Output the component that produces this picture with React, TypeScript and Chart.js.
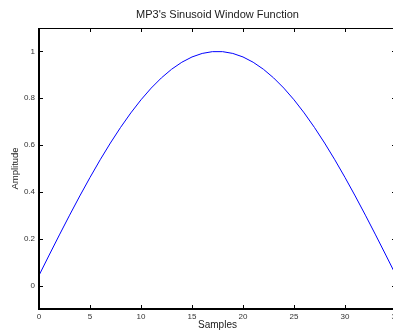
import React, { useEffect, useRef } from "react";
import { Chart, registerables } from "chart.js";

Chart.register(...registerables);

const samples = [0,1,2,3,4,5,6,7,8,9,10,11,12,13,14,15,16,17,18,19,20,21,22,23,24,25,26,27,28,29,30,31,32,33,34,35];
const amplitude = [
  0.0436, 0.1305, 0.2164, 0.3007, 0.3827, 0.4617, 0.5373, 0.6088, 0.6756, 0.7373,
  0.7934, 0.8434, 0.8870, 0.9239, 0.9537, 0.9763, 0.9914, 0.9990, 0.9990, 0.9914,
  0.9763, 0.9537, 0.9239, 0.8870, 0.8434, 0.7934, 0.7373, 0.6756, 0.6088, 0.5373,
  0.4617, 0.3827, 0.3007, 0.2164, 0.1305, 0.0436,
];
const xTicks = [0, 5, 10, 15, 20, 25, 30, 35];
const yTicks = [0, 0.2, 0.4, 0.6, 0.8, 1];
const yTickLabels = ["0", "0.2", "0.4", "0.6", "0.8", "1"];
const titleText = "MP3's Sinusoid Window Function";
const xTitle = "Samples";
const yTitle = "Amplitude";

const FONT = "'Liberation Sans', Arial, Helvetica, sans-serif";

const framePlugin = {
  id: "frame",
  afterDraw(chart: any) {
    const { ctx, chartArea } = chart;
    const { left, right, top, bottom } = chartArea;
    const xs = chart.scales.x;
    const ys = chart.scales.y;
    ctx.save();
    ctx.strokeStyle = "#000";
    ctx.lineWidth = 2;
    ctx.beginPath();
    ctx.moveTo(left, top);
    ctx.lineTo(left, bottom);
    ctx.lineTo(right, bottom);
    ctx.stroke();
    ctx.lineWidth = 1;
    ctx.beginPath();
    ctx.moveTo(left, top + 0.5);
    ctx.lineTo(right, top + 0.5);
    ctx.lineTo(right - 0.5, bottom);
    ctx.stroke();
    ctx.lineWidth = 1;
    ctx.beginPath();
    for (const v of xTicks) {
      const px = Math.round(xs.getPixelForValue(v)) + 0.5;
      ctx.moveTo(px, bottom);
      ctx.lineTo(px, bottom - 4);
      ctx.moveTo(px, top);
      ctx.lineTo(px, top + 4);
    }
    for (const v of yTicks) {
      const py = Math.round(ys.getPixelForValue(v)) + 0.5;
      ctx.moveTo(left, py);
      ctx.lineTo(left + 4, py);
      ctx.moveTo(right, py);
      ctx.lineTo(right - 4, py);
    }
    ctx.stroke();
    ctx.fillStyle = "#1a1a1a";
    ctx.font = `11px ${FONT}`;
    ctx.textAlign = "center";
    ctx.textBaseline = "middle";
    ctx.fillText(titleText, (left + right) / 2, 15);
    ctx.restore();
  },
};

export default function App() {
  const ref = useRef<HTMLCanvasElement>(null);
  useEffect(() => {
    if (!ref.current) return;
    const chart = new Chart(ref.current, {
      type: "line",
      data: {
        datasets: [
          {
            data: samples.map((s, i) => ({ x: s, y: amplitude[i] })),
            borderColor: "#0000ff",
            borderWidth: 1,
            pointRadius: 0,
            tension: 0,
            fill: false,
          },
        ],
      },
      options: {
        animation: false,
        responsive: false,
        devicePixelRatio: 1,
        layout: { padding: { top: 28, right: 24, left: 0, bottom: 0 } },
        plugins: { legend: { display: false }, tooltip: { enabled: false }, title: { display: false } },
        scales: {
          x: {
            type: "linear",
            min: 0,
            max: 35,
            grid: { display: false, drawTicks: false },
            border: { display: false },
            afterBuildTicks: (s: any) => {
              s.ticks = xTicks.map((v) => ({ value: v }));
            },
            afterFit: (s: any) => {
              s.height = 22;
            },
            ticks: {
              padding: 3,
              color: "#333",
              font: { family: FONT, size: 8 },
              maxRotation: 0,
              autoSkip: false,
              callback: (v: any) => String(v),
            },
            title: {
              display: true,
              text: xTitle,
              color: "#1a1a1a",
              font: { family: FONT, size: 10 },
              padding: { top: 0, bottom: 0 },
            },
          },
          y: {
            type: "linear",
            min: -0.1,
            max: 1.1,
            grid: { display: false, drawTicks: false },
            border: { display: false },
            afterBuildTicks: (s: any) => {
              s.ticks = yTicks.map((v) => ({ value: v }));
            },
            afterFit: (s: any) => {
              s.width = 39;
            },
            ticks: {
              padding: 4,
              color: "#333",
              font: { family: FONT, size: 8 },
              autoSkip: false,
              callback: (v: any) => {
                const i = yTicks.findIndex((t) => Math.abs(t - v) < 1e-9);
                return i >= 0 ? yTickLabels[i] : "";
              },
            },
            title: {
              display: true,
              text: yTitle,
              color: "#1a1a1a",
              font: { family: FONT, size: 9.5 },
              padding: { top: 10, bottom: 0 },
            },
          },
        },
      },
      plugins: [framePlugin],
    });
    return () => chart.destroy();
  }, []);
  return (
    <div style={{ position: "fixed", left: 0, top: 0, width: 393, height: 331, overflow: "hidden", background: "#fff" }}>
      <canvas ref={ref} width={420} height={331} style={{ display: "block" }} />
    </div>
  );
}
